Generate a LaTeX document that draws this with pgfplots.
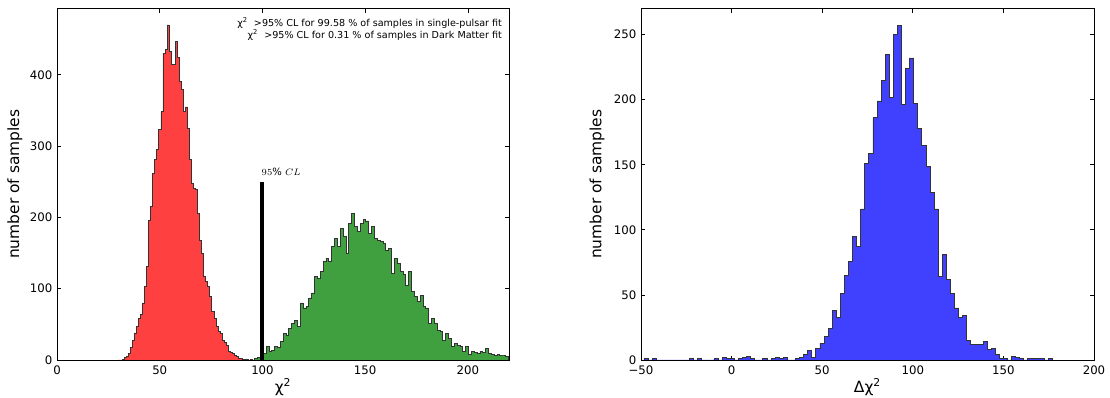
\documentclass[border=0pt]{standalone}
\usepackage{pgfplots}
\pgfplotsset{compat=1.18}
\usepackage{pgfplotstable}
\usepackage{fontspec}
\setmainfont{DejaVu Sans}

\definecolor{hred}{RGB}{255,64,64}
\definecolor{hgreen}{RGB}{64,160,64}
\definecolor{hblue}{RGB}{64,64,255}

% single-pulsar fit chi^2 (bins of width 0.992 from 29.75)
\pgfplotstableread{
n
0
0
1
3
5
9
18
28
38
47
58
64
80
103
131
196
215
262
281
295
323
348
430
435
470
433
414
414
447
424
391
379
348
355
325
281
248
240
239
206
168
150
117
110
103
89
68
58
47
40
37
28
24
21
12
11
9
6
5
2
2
1
1
1
0
1
0
1
0
1
0
}\redtab

% dark matter fit chi^2 (bins of width 1.388 from 96.2)
\pgfplotstableread{
n
2
3
5
9
19
12
14
19
17
26
37
35
44
51
56
47
80
73
75
87
94
117
115
124
138
143
138
159
171
159
185
173
150
192
206
187
180
192
197
195
178
187
171
168
166
164
154
157
122
143
136
124
120
105
124
96
89
82
91
75
73
51
58
52
42
40
28
37
30
19
23
20
19
12
19
8
12
10
9
12
10
16
9
8
7
8
7
7
5
0
}\greentab

% delta chi^2 (bins of width 2.25 from -48)
\pgfplotstableread{
n
1
0
1
0
0
0
0
0
0
0
0
1
0
1
0
0
0
1
0
2
1
1
0
1
2
3
1
0
0
1
0
1
2
1
2
0
0
1
2
4
7
2
9
13
18
24
38
33
51
65
76
95
87
116
151
159
186
199
215
235
202
250
257
196
224
232
197
178
165
149
129
116
64
81
62
51
40
33
34
15
12
12
12
14
8
9
4
1
1
0
3
2
1
0
1
1
1
1
0
1
0
}\bluetab

\pgfplotsset{
  panel/.style={
    scale only axis,
    anchor=south west,
    height=263.6pt,
    axis line style={black, line width=0.6pt},
    tick align=inside,
    major tick length=3pt,
    tick style={black, line width=0.5pt},
    /pgf/number format/assume math mode=true,
    ticklabel style={font=\fontsize{8.8}{10}\selectfont},
    xticklabel style={yshift=-0.6pt},
    label style={font=\fontsize{11.6}{13}\selectfont},
    xlabel style={at={(axis description cs:0.5,-0.04)}, anchor=north},
    scaled ticks=false,
    clip=true,
  },
  hist/.style={const plot mark left, draw=black!80, line width=0.6pt},
}

\begin{document}
\begin{tikzpicture}
\useasboundingbox (0pt,0pt) rectangle (832.5pt,298.5pt);

\begin{axis}[panel,
  at={(42.75pt,28.5pt)}, width=339pt,
  xmin=0, xmax=220, ymin=0, ymax=493,
  xtick={0,50,100,150,200},
  ytick={0,100,200,300,400},
  xlabel={χ\textsuperscript{2}},
  ylabel={number of samples},
  ylabel style={at={(axis description cs:-0.066,0.5)}, anchor=south, rotate=0},
]
\addplot[hist, fill=hred] table[x expr=29.75+0.992*\coordindex, y=n]{\redtab} \closedcycle;
\addplot[hist, fill=hgreen] table[x expr=96.2+1.388*\coordindex, y=n]{\greentab} \closedcycle;
\addplot[black, line width=3pt] coordinates {(100,0) (100,250)};
\node[anchor=south west, inner sep=0pt, font=\fontsize{7.5}{9}\selectfont] at (axis cs:99.5,258) {$95\%\ CL$};
\node[anchor=north east, align=right, inner sep=0pt, font=\fontsize{7.2}{9}\selectfont]
  at (axis description cs:0.985,0.975)
  {χ\textsuperscript{2}\ \ >95\% CL for 99.58 \% of samples in single-pulsar fit\\
   χ\textsuperscript{2}\ \ >95\% CL for 0.31 \% of samples in Dark Matter fit};
\end{axis}

\begin{axis}[panel,
  at={(480.75pt,28.5pt)}, width=339.75pt,
  xmin=-50, xmax=200, ymin=0, ymax=270,
  xtick={-50,0,50,100,150,200},
  xticklabels={−50,0,50,100,150,200},
  ytick={0,50,100,150,200,250},
  xlabel={Δχ\textsuperscript{2}},
  ylabel={number of samples},
  ylabel style={at={(axis description cs:-0.070,0.5)}, anchor=south, rotate=0},
]
\addplot[hist, fill=hblue] table[x expr=-48+2.25*\coordindex, y=n]{\bluetab} \closedcycle;
\end{axis}
\end{tikzpicture}
\end{document}
